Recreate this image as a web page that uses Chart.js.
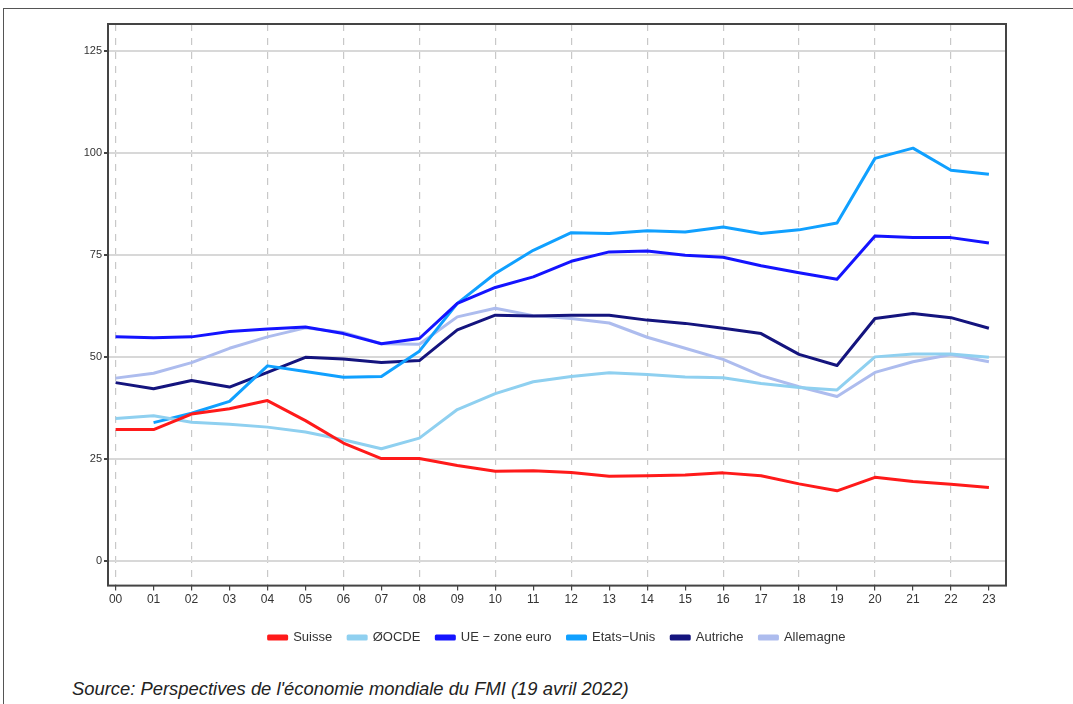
<!DOCTYPE html>
<html lang="fr">
<head>
    <meta charset="UTF-8">
    <title>Dette publique</title>
    <script src="https://cdn.jsdelivr.net/npm/chart.js"></script>
    <style>
        body { margin: 0; background: #fff; width: 1073px; height: 704px; overflow: hidden; position: relative; }
        #cadre { position: absolute; left: 3px; top: 8px; width: 1100px; height: 720px; border: 1.5px solid #555; }
        #zone { position: absolute; left: 0; top: 0; width: 1073px; height: 660px; }
        #source { position: absolute; left: 72px; top: 678px; font-family: "Liberation Sans", Arial, sans-serif;
                  font-style: italic; font-size: 18.4px; color: #222; }
    </style>
</head>
<body>
    <div id="cadre"></div>
    <div id="zone"><canvas id="graphique"></canvas></div>
    <div id="source">Source: Perspectives de l'économie mondiale du FMI (19 avril 2022)</div>
    <script>
        // Données
        const annees = ['00','01','02','03','04','05','06','07','08','09','10','11',
                        '12','13','14','15','16','17','18','19','20','21','22','23'];
        const graduationsY = [0, 25, 50, 75, 100, 125];

        const suisse     = [32.2, 32.2, 36.0, 37.3, 39.3, 34.4, 28.9, 25.1, 25.1, 23.4, 22.0, 22.1,
                            21.7, 20.8, 20.9, 21.1, 21.6, 20.9, 18.9, 17.2, 20.5, 19.5, 18.8, 18.0];
        const ocde       = [34.9, 35.6, 34.0, 33.5, 32.8, 31.6, 29.7, 27.5, 30.1, 37.1, 41.0, 43.9,
                            45.2, 46.1, 45.7, 45.1, 44.9, 43.5, 42.5, 41.9, 50.0, 50.7, 50.7, 49.9];
        const zoneEuro   = [54.9, 54.7, 54.9, 56.2, 56.8, 57.3, 55.7, 53.2, 54.5, 63.1, 67.0, 69.6,
                            73.4, 75.7, 75.9, 74.9, 74.4, 72.3, 70.6, 69.0, 79.6, 79.2, 79.2, 77.9];
        const etatsUnis  = [null, 33.9, 36.2, 39.1, 47.8, 46.4, 45.0, 45.2, 51.4, 63.1, 70.4, 76.1,
                            80.4, 80.2, 80.9, 80.6, 81.8, 80.2, 81.1, 82.8, 98.6, 101.1, 95.7, 94.7];
        const autriche   = [43.7, 42.2, 44.2, 42.6, 46.2, 49.9, 49.5, 48.6, 49.1, 56.6, 60.2, 60.0,
                            60.2, 60.2, 59.0, 58.2, 57.0, 55.7, 50.6, 47.9, 59.4, 60.6, 59.6, 57.0];
        const allemagne  = [44.8, 46.0, 48.6, 52.1, 54.9, 57.1, 56.0, 53.2, 53.1, 59.8, 61.9, 60.1,
                            59.4, 58.3, 54.8, 52.1, 49.4, 45.4, 42.7, 40.3, 46.2, 48.8, 50.6, 48.8];

        function points(valeurs) {
            return valeurs.map((v, i) => ({ x: i, y: v }));
        }

        function serie(nom, valeurs, couleur) {
            return {
                label: nom,
                data: points(valeurs),
                borderColor: couleur,
                backgroundColor: couleur,
                borderWidth: 3,
                pointRadius: 0,
                tension: 0,
                borderJoinStyle: 'round',
                spanGaps: false
            };
        }

        // Cadre autour de la zone du graphique
        const cadrePlugin = {
            id: 'cadrePlot',
            beforeDatasetsDraw(chart) {
                const a = chart.chartArea;
                const ctx = chart.ctx;
                ctx.save();
                ctx.strokeStyle = '#444';
                ctx.lineWidth = 2;
                ctx.strokeRect(a.left, a.top, a.right - a.left, a.bottom - a.top);
                ctx.restore();
            }
        };

        Chart.defaults.font.family = '"Liberation Sans", Arial, sans-serif';
        Chart.defaults.color = '#333';

        const ctx = document.getElementById('graphique').getContext('2d');
        new Chart(ctx, {
            type: 'line',
            data: {
                datasets: [
                    serie('Suisse', suisse, '#ff1a1a'),
                    serie('ØOCDE', ocde, '#8fd0f0'),
                    serie('UE \u2212 zone euro', zoneEuro, '#1414ff'),
                    serie('Etats\u2212Unis', etatsUnis, '#10a0ff'),
                    serie('Autriche', autriche, '#14147e'),
                    serie('Allemagne', allemagne, '#adbcee')
                ]
            },
            options: {
                responsive: true,
                maintainAspectRatio: false,
                animation: false,
                layout: { padding: { left: 8, right: 67, top: 24, bottom: 6 } },
                scales: {
                    x: {
                        type: 'linear',
                        min: -0.2,
                        max: 23.45,
                        afterBuildTicks: s => { s.ticks = annees.map((a, i) => ({ value: i })); },
                        afterFit: s => { s.height += 6; },
                        ticks: {
                            autoSkip: false,
                            maxRotation: 0,
                            font: { size: 12 },
                            padding: 2,
                            callback: v => annees[v]
                        },
                        grid: {
                            color: c => (c.tick && c.tick.value % 2 === 0) ? '#c8c8c8' : 'rgba(0,0,0,0)',
                            tickColor: '#444',
                            tickLength: 5,
                            lineWidth: 1.2,
                            tickBorderDash: []
                        },
                        border: { display: false, dash: [7, 7] }
                    },
                    y: {
                        min: -6,
                        max: 131.5,
                        afterBuildTicks: s => { s.ticks = graduationsY.map(v => ({ value: v })); },
                        afterFit: s => { s.width = 100; },
                        ticks: { font: { size: 11 }, padding: 2 },
                        grid: {
                            color: '#d8d8d8',
                            lineWidth: 2,
                            tickColor: '#444',
                            tickLength: 4
                        },
                        border: { display: false }
                    }
                },
                plugins: {
                    legend: {
                        position: 'bottom',
                        fullSize: false,
                        labels: {
                            boxWidth: 18,
                            boxHeight: 3,
                            font: { size: 13 },
                            color: '#333',
                            padding: 16
                        }
                    },
                    tooltip: { enabled: false }
                }
            },
            plugins: [cadrePlugin]
        });
    </script>
</body>
</html>
